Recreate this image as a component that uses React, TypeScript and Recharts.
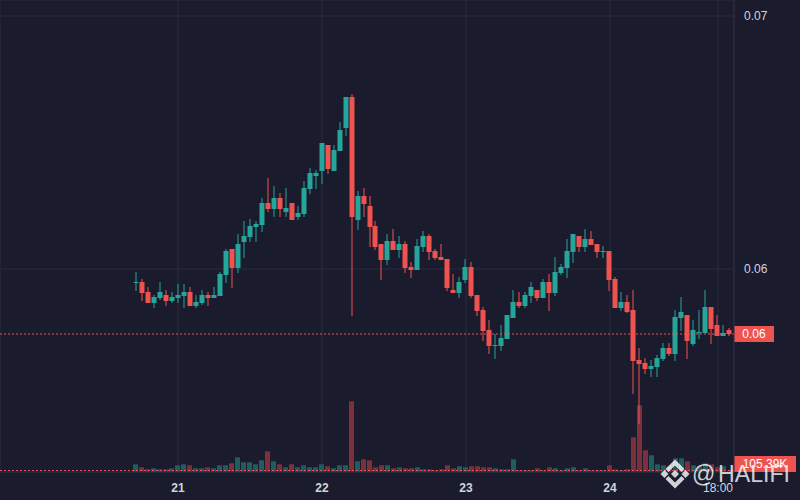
import React from 'react';
import { ComposedChart, Bar, Cell, XAxis, YAxis, CartesianGrid, ReferenceLine } from 'recharts';

// hourly candles, 20th 17:00 -> 24th 20:00
const opens = [
  0.059486, 0.059486, 0.059091, 0.058656, 0.058854, 0.058972, 0.058735, 0.058854, 0.058933, 0.059091,
  0.058538, 0.058656, 0.058972, 0.058854, 0.058933, 0.059763, 0.060791, 0.06004, 0.061067, 0.061265,
  0.06166, 0.061739, 0.062609, 0.062372, 0.062806, 0.062253, 0.062609, 0.062055, 0.062174, 0.063162,
  0.063676, 0.063874, 0.064901, 0.063874, 0.064664, 0.065573, 0.066798, 0.061937, 0.062885, 0.06249,
  0.0617, 0.060988, 0.060356, 0.061107, 0.060751, 0.060988, 0.060079, 0.05996, 0.06087, 0.061304,
  0.060711, 0.060474, 0.060395, 0.05917, 0.059051, 0.059565, 0.060079, 0.058972, 0.058379, 0.057589,
  0.056957, 0.056957, 0.057233, 0.058063, 0.058696, 0.058538, 0.058933, 0.05917, 0.058854, 0.059486,
  0.059051, 0.059842, 0.06004, 0.060672, 0.061304, 0.06087, 0.061186, 0.060988, 0.060672, 0.060711,
  0.059605, 0.058458, 0.058696, 0.058379, 0.056403, 0.056285, 0.056047, 0.056126, 0.056443, 0.056877,
  0.05664, 0.058063, 0.058182, 0.057036, 0.05747, 0.05747, 0.058498, 0.057787, 0.057352, 0.057589,
];
const highs = [
  0.059881, 0.059605, 0.059289, 0.058972, 0.059486, 0.05917, 0.059091, 0.059407, 0.059407, 0.059289,
  0.058972, 0.05917, 0.059091, 0.059289, 0.059881, 0.060791, 0.060791, 0.061383, 0.061897, 0.061976,
  0.061897, 0.062806, 0.063597, 0.063281, 0.063004, 0.063202, 0.062609, 0.06249, 0.063478, 0.063992,
  0.063913, 0.06498, 0.064901, 0.064901, 0.06581, 0.066798, 0.066917, 0.063083, 0.063202, 0.062885,
  0.061897, 0.060988, 0.061383, 0.061581, 0.061304, 0.061107, 0.060277, 0.061186, 0.061502, 0.061383,
  0.060791, 0.060988, 0.060395, 0.059802, 0.059684, 0.060395, 0.060277, 0.058972, 0.058498, 0.057984,
  0.057431, 0.057787, 0.058182, 0.05917, 0.059091, 0.059091, 0.059486, 0.05917, 0.059605, 0.059802,
  0.060474, 0.060198, 0.061186, 0.061383, 0.061304, 0.061581, 0.061502, 0.060988, 0.060909, 0.060711,
  0.059684, 0.059091, 0.058972, 0.05917, 0.056877, 0.056482, 0.056403, 0.056601, 0.057075, 0.057075,
  0.058379, 0.058893, 0.058182, 0.057984, 0.058379, 0.05917, 0.058498, 0.058182, 0.057787, 0.057668,
];
const lows = [
  0.05913, 0.058735, 0.058656, 0.058458, 0.058775, 0.058538, 0.058656, 0.058656, 0.058458, 0.058538,
  0.058458, 0.058577, 0.058538, 0.058854, 0.058933, 0.059447, 0.059249, 0.059842, 0.060435, 0.061067,
  0.061067, 0.061462, 0.062253, 0.062055, 0.062055, 0.062055, 0.061937, 0.061937, 0.062055, 0.062964,
  0.063162, 0.06336, 0.063755, 0.063874, 0.064664, 0.065257, 0.058142, 0.061542, 0.062055, 0.06087,
  0.060751, 0.059565, 0.060158, 0.060751, 0.060435, 0.059842, 0.059644, 0.05996, 0.060672, 0.060356,
  0.060356, 0.060356, 0.05913, 0.059051, 0.058854, 0.059447, 0.058854, 0.058142, 0.057154, 0.05664,
  0.056443, 0.056759, 0.057233, 0.058063, 0.058458, 0.058458, 0.058656, 0.058735, 0.058854, 0.05834,
  0.058933, 0.059763, 0.059644, 0.060237, 0.060672, 0.060672, 0.060949, 0.060435, 0.060435, 0.05913,
  0.058458, 0.05834, 0.058261, 0.055059, 0.053873, 0.05585, 0.055731, 0.055731, 0.056364, 0.056561,
  0.056364, 0.057549, 0.056443, 0.056957, 0.057233, 0.05747, 0.057036, 0.057352, 0.057352, 0.057352,
];
const closes = [
  0.059486, 0.059051, 0.058656, 0.058893, 0.059091, 0.058735, 0.058893, 0.058972, 0.059091, 0.058538,
  0.058696, 0.058972, 0.058854, 0.058972, 0.059802, 0.060711, 0.06004, 0.060988, 0.061304, 0.0617,
  0.061779, 0.062609, 0.062372, 0.062806, 0.062372, 0.062411, 0.061937, 0.062213, 0.063202, 0.063794,
  0.063794, 0.06498, 0.063953, 0.064704, 0.065494, 0.066798, 0.062055, 0.062885, 0.062569, 0.06166,
  0.06087, 0.060356, 0.061107, 0.060751, 0.060988, 0.06004, 0.05996, 0.060909, 0.061304, 0.060672,
  0.060435, 0.060356, 0.059249, 0.059051, 0.059486, 0.060079, 0.058933, 0.05834, 0.057549, 0.056957,
  0.056996, 0.057273, 0.058182, 0.058696, 0.058538, 0.058972, 0.059289, 0.058854, 0.059486, 0.059051,
  0.059881, 0.060079, 0.060711, 0.061383, 0.06087, 0.061186, 0.060949, 0.060672, 0.060711, 0.059565,
  0.058458, 0.058696, 0.0583, 0.056364, 0.056245, 0.056047, 0.056166, 0.056482, 0.056877, 0.05664,
  0.058103, 0.0583, 0.057154, 0.057589, 0.05751, 0.058498, 0.057628, 0.057352, 0.05747, 0.057431,
];
// volume in thousands
const volumes = [
  540, 330, 190, 260, 190, 190, 260, 470, 540, 470,
  260, 260, 330, 260, 470, 470, 610, 1030, 680, 680,
  540, 820, 1450, 750, 540, 330, 540, 330, 470, 330,
  330, 540, 400, 260, 470, 470, 4950, 750, 890, 820,
  330, 470, 470, 260, 330, 260, 260, 330, 190, 190,
  120, 190, 470, 260, 400, 330, 400, 400, 330, 330,
  260, 190, 190, 890, 120, 120, 120, 260, 120, 330,
  260, 120, 260, 330, 120, 260, 120, 120, 120, 470,
  190, 120, 190, 2430, 4670, 1520, 1170, 540, 470, 400,
  960, 960, 750, 470, 400, 610, 540, 330, 400, 105.39,
];

const timeTicks = [7, 31, 55, 79, 97];
const timeLabels = ['21', '22', '23', '24', '18:00'];
const priceTicks = [0.06, 0.07];

const BG = '#1b1b2e';
const GRID = '#2b2b42';
const TEXT = '#d1d4dc';
const UP = '#26a69a';
const DOWN = '#ef5350';
const UP_VOL = '#215c61';
const DOWN_VOL = '#7c303c';
const MARK = 'rgba(255,255,255,0.8)';

const data = opens.map((open, i) => ({
  t: i,
  open,
  high: highs[i],
  low: lows[i],
  close: closes[i],
  range: [lows[i], highs[i]],
  volume: volumes[i],
  up: closes[i] >= open,
}));

const last = data[data.length - 1];

const Candle = (props: any) => {
  const { x, y, width, height, payload } = props;
  if (x == null || y == null || !payload) return null;
  const top = Math.min(y, y + height);
  const h = Math.abs(height);
  const span = payload.high - payload.low;
  const toY = (v: number) => (span > 0 ? top + ((payload.high - v) / span) * h : top);
  const bodyTop = toY(Math.max(payload.open, payload.close));
  const bodyBottom = toY(Math.min(payload.open, payload.close));
  const color = payload.up ? UP : DOWN;
  const cx = Math.round(x + width / 2);
  return (
    <g>
      <rect x={cx - 0.5} y={top} width={1} height={Math.max(h, 1)} fill={color} />
      <rect
        x={cx - 2.5}
        y={bodyTop}
        width={5}
        height={Math.max(bodyBottom - bodyTop, 1)}
        fill={color}
      />
    </g>
  );
};

const AxisTag = ({ viewBox, text, w, maxY }: any) => {
  if (!viewBox) return null;
  const left = viewBox.x + viewBox.width;
  let top = viewBox.y - 8;
  if (maxY != null && top + 16 > maxY) top = maxY - 16;
  return (
    <g>
      <rect x={left} y={top} width={w} height={16} fill={DOWN} />
      <text
        x={left + w / 2}
        y={top + 12}
        textAnchor="middle"
        fill="#ffffff"
        fontSize={12}
        fontFamily="Liberation Sans, Arial, sans-serif"
      >
        {text}
      </text>
    </g>
  );
};

const TimeTick = ({ x, y, payload }: any) => {
  const idx = timeTicks.indexOf(payload.value);
  if (idx < 0) return null;
  const label = timeLabels[idx];
  const isDay = label.indexOf(':') < 0;
  return (
    <text
      x={x}
      y={y + 18}
      textAnchor="middle"
      fill={TEXT}
      fontSize={12}
      fontWeight={isDay ? 700 : 400}
      fontFamily="Liberation Sans, Arial, sans-serif"
    >
      {label}
    </text>
  );
};

// "@ HALIFI" watermark in the lower right corner
const Watermark = () => (
  <svg
    width={800}
    height={500}
    style={{ position: 'absolute', left: 0, top: 0, pointerEvents: 'none' }}
  >
    <g fill={MARK} transform="translate(660,459)">
      <polygon points="15,11 19,15 15,19 11,15" />
      <polygon points="4.5,11 8.5,15 4.5,19 0.5,15" />
      <polygon points="25.5,11 29.5,15 25.5,19 21.5,15" />
      <polygon points="15,0.5 24.5,10 21.5,13 15,6.5 8.5,13 5.5,10" />
      <polygon points="15,29.5 24.5,20 21.5,17 15,23.5 8.5,17 5.5,20" />
    </g>
    <text x={692} y={482} fill={MARK} fontSize={23} fontFamily="Liberation Sans, Arial, sans-serif">
      @
    </text>
    <text
      x={718}
      y={482}
      fill={MARK}
      fontSize={23}
      fontFamily="Liberation Sans, Arial, sans-serif"
      textLength={72}
      lengthAdjust="spacingAndGlyphs"
    >
      HALIFI
    </text>
  </svg>
);

export default function App() {
  return (
    <div
      style={{
        position: 'fixed',
        left: 0,
        top: 0,
        width: 800,
        height: 500,
        background: BG,
        overflow: 'hidden',
      }}
    >
      <ComposedChart width={800} height={500} data={data} margin={{ top: 0, right: 0, bottom: 0, left: 0 }}>
        <CartesianGrid stroke={GRID} strokeWidth={1} />
        <XAxis
          dataKey="t"
          type="number"
          domain={[-22.667, 99.667]}
          allowDataOverflow
          ticks={timeTicks}
          tick={<TimeTick />}
          tickLine={false}
          tickSize={0}
          axisLine={{ stroke: GRID }}
          height={28}
          interval={0}
        />
        <XAxis xAxisId="vx" dataKey="t" type="number" domain={[-22.667, 99.667]} allowDataOverflow hide />
        <YAxis
          orientation="right"
          width={66}
          domain={[0.051976, 0.070632]}
          allowDataOverflow
          ticks={priceTicks}
          tickFormatter={(v: number) => v.toFixed(2)}
          tick={{ fill: TEXT, fontSize: 12, fontFamily: 'Liberation Sans, Arial, sans-serif' }}
          tickLine={false}
          tickSize={0}
          tickMargin={10}
          axisLine={{ stroke: GRID }}
        />
        <YAxis yAxisId="vol" domain={[0, 33040]} allowDataOverflow hide />
        <Bar dataKey="volume" xAxisId="vx" yAxisId="vol" barSize={5} isAnimationActive={false}>
          {data.map((d, i) => (
            <Cell key={`v-${i}`} fill={d.up ? UP_VOL : DOWN_VOL} />
          ))}
        </Bar>
        <ReferenceLine
          xAxisId="vx"
          yAxisId="vol"
          y={last.volume}
          stroke={DOWN}
          strokeDasharray="2 2"
          label={<AxisTag text={`${last.volume.toFixed(2)}K`} w={62} maxY={472} />}
        />
        <Bar dataKey="range" barSize={5} shape={<Candle />} isAnimationActive={false} />
        <ReferenceLine
          y={last.close}
          stroke={DOWN}
          strokeDasharray="2 2"
          label={<AxisTag text={last.close.toFixed(2)} w={40} />}
        />
      </ComposedChart>
      <Watermark />
    </div>
  );
}
